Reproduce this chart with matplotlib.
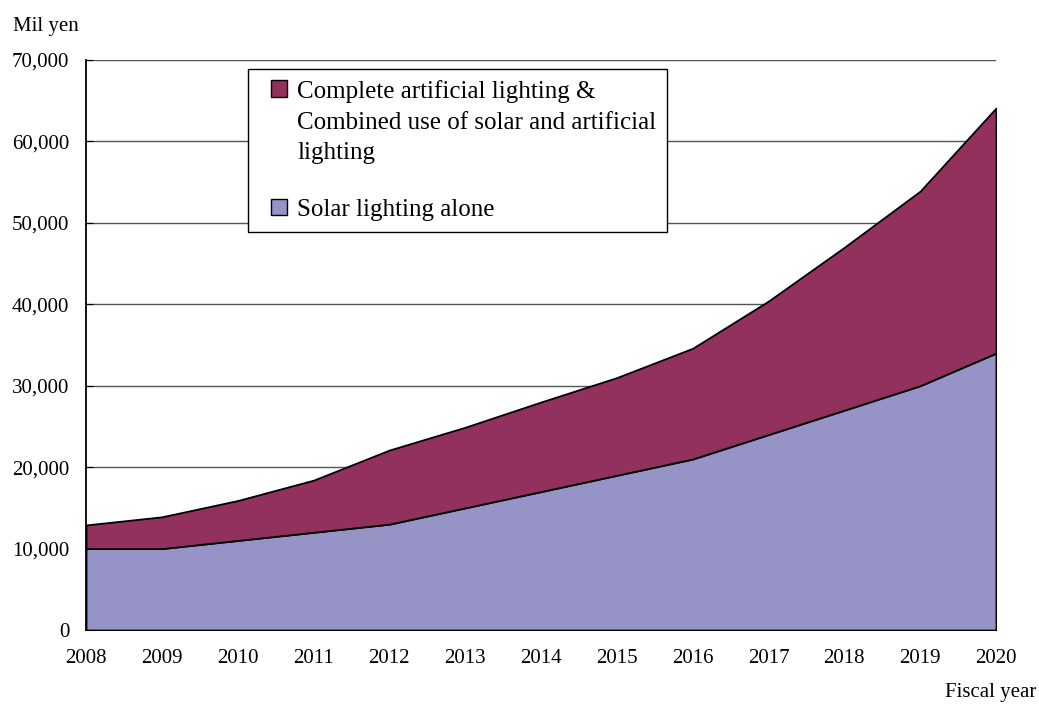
import matplotlib.pyplot as plt
from matplotlib.patches import Patch, Rectangle
from matplotlib.legend_handler import HandlerPatch
import numpy as np

plt.rcParams['font.family'] = ['Liberation Serif', 'DejaVu Serif']

# data (Mil yen)
years = [2008, 2009, 2010, 2011, 2012, 2013, 2014, 2015, 2016, 2017, 2018, 2019, 2020]
solar_alone = [10000, 10000, 11000, 12000, 13000, 15000, 17000, 19000, 21000, 24000, 27000, 30000, 34000]
total = [12900, 13900, 15900, 18400, 22100, 24900, 28000, 31000, 34600, 40400, 47000, 53900, 64100]
artificial = [t - s for t, s in zip(total, solar_alone)]

label_art = 'Complete artificial lighting &\nCombined use of solar and artificial\nlighting'
label_solar = 'Solar lighting alone'
c_art = '#92315E'
c_solar = '#9693C7'

fig = plt.figure(figsize=(10.39, 7.04), dpi=100)
ax = fig.add_axes([0.0828, 0.1051, 0.8758, 0.8097])

ax.stackplot(years, solar_alone, artificial, colors=[c_solar, c_art],
             edgecolor='black', linewidth=1.3, zorder=3)

ax.set_xlim(2008, 2020)
ax.set_ylim(0, 70000)
ax.set_xticks(years)
ax.set_yticks(np.arange(0, 70001, 10000))
ax.set_yticklabels([f'{v:,}' for v in range(0, 70001, 10000)])
ax.yaxis.grid(True, color='#555555', linewidth=1, zorder=0)
ax.set_axisbelow(True)

ax.tick_params(axis='x', direction='in', length=5, pad=14, labelsize=15)
ax.tick_params(axis='y', direction='in', length=5, pad=12, labelsize=15)
ax.spines['top'].set_visible(False)
ax.spines['right'].set_visible(False)
for s in ['left', 'bottom']:
    ax.spines[s].set_linewidth(1.3)

fig.text(13 / 1039, 1 - 27 / 704, 'Mil yen', fontsize=15, va='center', ha='left')
fig.text(1036 / 1039, 1 - 693 / 704, 'Fiscal year', fontsize=15, va='center', ha='right')


# small square at the right end of a wider handle box (extra left padding)
def square_patch(legend, orig_handle, xdescent, ydescent, width, height, fontsize):
    s = 0.65 * fontsize
    return Rectangle((-xdescent + width - s, -ydescent + height - s), s, s)


handles = [Patch(facecolor=c_art, edgecolor='black', linewidth=1),
           Patch(facecolor=c_solar, edgecolor='black', linewidth=1)]
leg = ax.legend(handles, [label_art, label_solar], loc='upper left',
                bbox_to_anchor=(248 / 1039, 1 - 69 / 704), bbox_transform=fig.transFigure,
                fontsize=18, frameon=True, fancybox=False, edgecolor='black',
                framealpha=1, handlelength=1.11, handleheight=0.65, handletextpad=0.4,
                labelspacing=1.4, borderpad=0.45, borderaxespad=0,
                handler_map={Patch: HandlerPatch(patch_func=square_patch)})
leg.get_frame().set_linewidth(1)
leg.set_zorder(5)
for t in leg.get_texts():
    t.set_linespacing(1.5)
# handle next to the first line of a multi-line label
for col in leg._legend_handle_box.get_children():
    for item in col.get_children():
        item.align = 'top'

fig.savefig('out.png', dpi=100)
